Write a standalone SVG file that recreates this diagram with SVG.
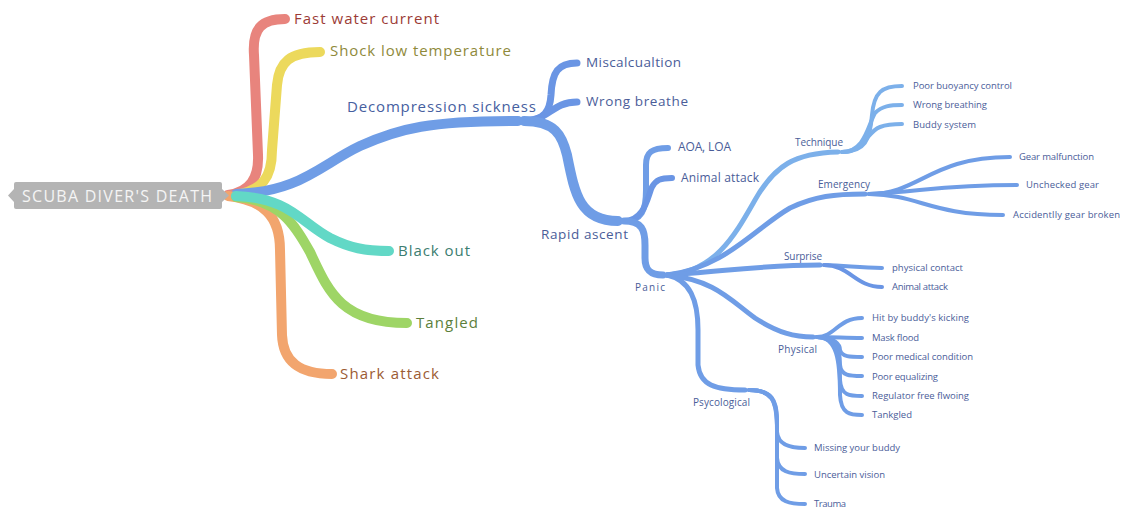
<svg xmlns="http://www.w3.org/2000/svg" width="1123" height="508" viewBox="0 0 1123 508">
<style>
  text { font-family: "Open Sans", "Noto Sans", "Liberation Sans", sans-serif; }
  .c { fill: none; stroke-linecap: round; stroke-linejoin: round; }
  .l1 { stroke-width: 10; }
  .l2 { stroke-width: 7; }
  .l3 { stroke-width: 6; }
  .l4 { stroke-width: 5; }
  .l5 { stroke-width: 4; }
  .red { stroke: #e8847d; }
  .yel { stroke: #ecd95c; }
  .blu { stroke: #6f9de6; }
  .blu2 { stroke: #6a95e4; }
  .lbl { stroke: #7cb0ea; }
  .teal { stroke: #62d8c6; }
  .grn { stroke: #9ed566; }
  .org { stroke: #f2a56e; }
  .t1 { font-size: 15px; }
  .t2 { font-size: 13.5px; }
  .t3 { font-size: 12px; }
  .t4 { font-size: 10px; }
  .t5 { font-size: 9.5px; }
  .bt { fill: #4a5d99; }
</style>
<rect width="1123" height="508" fill="#ffffff"/>
<g id="connectors">
  <path class="c l1 red" d="M228,195 C250,192 259,178 258,155 L254,55 C252,28 262,19 285,19"/>
  <path class="c l1 yel" d="M236,195 C262,190 272,178 272,150 L277,85 C279,62 290,52 320,52"/>
  <path class="c l1 blu" d="M236,194 C300,192 320,165 360,146 C400,128 430,121 518,121"/>
  <path class="c l1 org" d="M228,196 C262,200 280,215 280,250 L282,335 C283,362 300,374 332,374"/>
  <path class="c l1 grn" d="M236,197 C280,200 295,225 310,252 C328,290 340,323 407,323"/>
  <path class="c l1 teal" d="M236,196 C290,198 300,222 330,238 C350,248 365,251 389,251"/>
  <path class="c l2 blu2" d="M524,121 C545,121 550,110 551,95 C552,72 558,63 577,63"/>
  <path class="c l2 blu2" d="M524,121 C548,121 552,102 577,102"/>
  <path class="c l1 blu" d="M524,121 C555,121 562,135 567,155 C575,195 580,221 618,221"/>
  <path class="c l3 blu" d="M624,221 C642,221 646,210 646,190 L646,165 C646,152 652,148 668,148"/>
  <path class="c l3 blu2" d="M624,221 C645,221 648,195 652,187 C656,180 660,178 672,178"/>
  <path class="c l2 blu" d="M624,221 C642,221 645,230 645,245 L645,258 C645,270 650,275 663,275"/>
  <path class="c l4 lbl" d="M667,275 C715,272 735,235 755,200 C775,165 795,153 838,152"/>
  <path class="c l4 blu" d="M667,275 C725,268 755,228 790,208 C815,196 835,194 865,194"/>
  <path class="c l4 blu" d="M667,275 C720,272 760,265 820,265"/>
  <path class="c l4 blu" d="M667,275 C715,280 730,300 755,318 C778,333 795,337 813,337"/>
  <path class="c l4 blu" d="M667,275 C690,280 698,300 698,330 L698,365 C700,385 715,390 745,390"/>
  <path class="c l5 lbl" d="M842,152 C865,152 870,140 872,115 C874,92 882,86 902,86"/>
  <path class="c l5 lbl" d="M842,152 C865,152 868,125 875,113 C882,106 890,105 902,105"/>
  <path class="c l5 lbl" d="M842,152 C865,152 866,132 880,127 C888,124 895,124 902,124"/>
  <path class="c l5 blu" d="M869,194 C920,194 930,157 1010,157"/>
  <path class="c l5 blu" d="M869,194 C920,192 940,185 1017,185"/>
  <path class="c l5 blu" d="M869,194 C920,195 930,215 1003,215"/>
  <path class="c l5 blu" d="M824,265 C850,266 860,268 882,268"/>
  <path class="c l5 blu2" d="M824,265 C850,265 855,287 882,287"/>
  <path class="c l5 blu" d="M817,337 C835,337 838,318 862,318"/>
  <path class="c l5 blu" d="M817,337 C835,337 845,338 862,338"/>
  <path class="c l5 blu" d="M817,337 C835,337 840,345 840,350 C842,357 850,357 862,357"/>
  <path class="c l5 blu" d="M817,337 C837,337 840,350 840,365 C841,376 850,376 862,376"/>
  <path class="c l5 blu" d="M817,337 C837,337 840,355 840,380 C841,396 850,396 862,396"/>
  <path class="c l5 blu" d="M817,337 C837,337 840,360 840,395 C841,414 850,415 862,415"/>
  <path class="c l5 blu" d="M749,390 C772,390 777,400 777,420 L777,432 C778,445 790,448 805,448"/>
  <path class="c l5 blu" d="M749,390 C772,390 777,400 777,425 L777,458 C778,472 790,474 805,474"/>
  <path class="c l5 blu" d="M749,390 C772,390 777,400 777,430 L777,488 C778,502 790,504 805,504"/>
</g>
<g id="root">
  <rect x="14" y="182" width="208" height="27" rx="2" fill="#b4b4b4"/>
  <path d="M14,189 L8,195.5 L14,202 Z M222,189 L229,195.5 L222,202 Z" fill="#b4b4b4"/>
  <text x="22" y="202" font-size="16" fill="#f5f5f5" textLength="190" lengthAdjust="spacing">SCUBA DIVER'S DEATH</text>
</g>
<g id="n-fast"><text class="t1" x="294" y="24" fill="#9c3b36" textLength="145" lengthAdjust="spacing">Fast water current</text></g>
<g id="n-shock"><text class="t1" x="330" y="56" fill="#8f8a3b" textLength="181" lengthAdjust="spacing">Shock low temperature</text></g>
<g id="n-decomp"><text class="t1" x="347" y="112" fill="#46609f" textLength="189" lengthAdjust="spacing">Decompression sickness</text></g>
<g id="n-black"><text class="t1" x="398" y="256" fill="#3c7d70" textLength="72" lengthAdjust="spacing">Black out</text></g>
<g id="n-tangled"><text class="t1" x="416" y="328" fill="#5c7f3b" textLength="62" lengthAdjust="spacing">Tangled</text></g>
<g id="n-shark"><text class="t1" x="340" y="379" fill="#9c5b33" textLength="99" lengthAdjust="spacing">Shark attack</text></g>
<g id="n-miscalc"><text class="t2 bt" x="586" y="67" textLength="95" lengthAdjust="spacing">Miscalcualtion</text></g>
<g id="n-wrongb"><text class="t2 bt" x="586" y="106" textLength="102" lengthAdjust="spacing">Wrong breathe</text></g>
<g id="n-rapid"><text class="t2 bt" x="541" y="239" textLength="87" lengthAdjust="spacing">Rapid ascent</text></g>
<g id="n-aoa"><text class="t3 bt" x="678" y="151" textLength="53" lengthAdjust="spacing">AOA, LOA</text></g>
<g id="n-animal1"><text class="t3 bt" x="681" y="182" textLength="78" lengthAdjust="spacing">Animal attack</text></g>
<g id="n-panic"><text class="t4 bt" x="635" y="291" textLength="30" lengthAdjust="spacing">Panic</text></g>
<g id="n-technique"><text class="t4 bt" x="795" y="146" textLength="48" lengthAdjust="spacing">Technique</text></g>
<g id="n-emergency"><text class="t4 bt" x="818" y="188" textLength="52" lengthAdjust="spacing">Emergency</text></g>
<g id="n-surprise"><text class="t4 bt" x="784" y="260" textLength="38" lengthAdjust="spacing">Surprise</text></g>
<g id="n-physical"><text class="t4 bt" x="778" y="353" textLength="39" lengthAdjust="spacing">Physical</text></g>
<g id="n-psyco"><text class="t4 bt" x="693" y="406" textLength="57" lengthAdjust="spacing">Psycological</text></g>
<g id="n-buoy"><text class="t5 bt" x="913" y="89" textLength="99" lengthAdjust="spacing">Poor buoyancy control</text></g>
<g id="n-wrongbr"><text class="t5 bt" x="913" y="108" textLength="74" lengthAdjust="spacing">Wrong breathing</text></g>
<g id="n-buddysys"><text class="t5 bt" x="913" y="128" textLength="63" lengthAdjust="spacing">Buddy system</text></g>
<g id="n-gearmal"><text class="t5 bt" x="1019" y="160" textLength="75" lengthAdjust="spacing">Gear malfunction</text></g>
<g id="n-unchecked"><text class="t5 bt" x="1026" y="188" textLength="73" lengthAdjust="spacing">Unchecked gear</text></g>
<g id="n-accid"><text class="t5 bt" x="1013" y="218" textLength="107" lengthAdjust="spacing">Accidentlly gear broken</text></g>
<g id="n-physcontact"><text class="t5 bt" x="892" y="271" textLength="71" lengthAdjust="spacing">physical contact</text></g>
<g id="n-animal2"><text class="t5 bt" x="892" y="290" textLength="56" lengthAdjust="spacing">Animal attack</text></g>
<g id="n-hit"><text class="t5 bt" x="872" y="321" textLength="97" lengthAdjust="spacing">Hit by buddy's kicking</text></g>
<g id="n-mask"><text class="t5 bt" x="872" y="341" textLength="47" lengthAdjust="spacing">Mask flood</text></g>
<g id="n-medical"><text class="t5 bt" x="872" y="360" textLength="101" lengthAdjust="spacing">Poor medical condition</text></g>
<g id="n-equal"><text class="t5 bt" x="872" y="380" textLength="66" lengthAdjust="spacing">Poor equalizing</text></g>
<g id="n-regulator"><text class="t5 bt" x="872" y="399" textLength="97" lengthAdjust="spacing">Regulator free flwoing</text></g>
<g id="n-tankgled"><text class="t5 bt" x="872" y="418" textLength="40" lengthAdjust="spacing">Tankgled</text></g>
<g id="n-missing"><text class="t5 bt" x="814" y="451" textLength="86" lengthAdjust="spacing">Missing your buddy</text></g>
<g id="n-uncertain"><text class="t5 bt" x="814" y="478" textLength="71" lengthAdjust="spacing">Uncertain vision</text></g>
<g id="n-trauma"><text class="t5 bt" x="814" y="507" textLength="32" lengthAdjust="spacing">Trauma</text></g>
</svg>
